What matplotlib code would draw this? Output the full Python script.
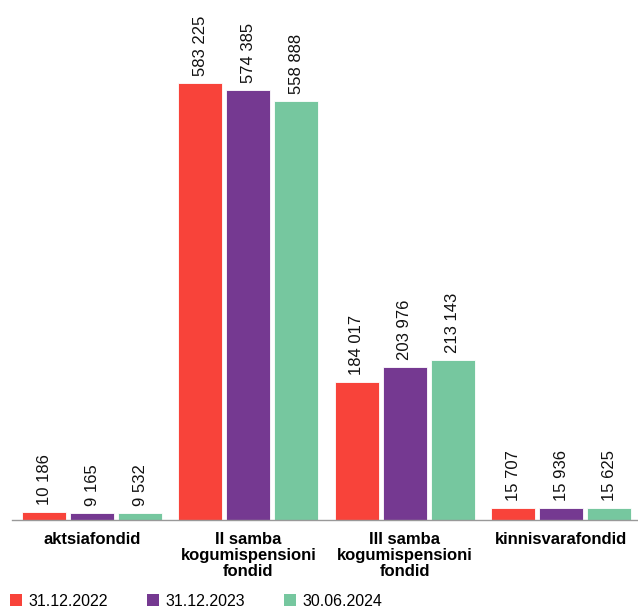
import matplotlib
matplotlib.use("Agg")
import matplotlib.pyplot as plt
from matplotlib.patches import Patch
import numpy as np

categories = ["aktsiafondid", "II samba\nkogumispensioni\nfondid",
              "III samba\nkogumispensioni\nfondid", "kinnisvarafondid"]
series_names = ["31.12.2022", "31.12.2023", "30.06.2024"]
values_2022 = [10186, 583225, 184017, 15707]
values_2023 = [9165, 574385, 203976, 15936]
values_2024 = [9532, 558888, 213143, 15625]
colors = ["#F8433A", "#753991", "#76C79F"]

series = [values_2022, values_2023, values_2024]

plt.rcParams['font.family'] = ['Liberation Sans', 'DejaVu Sans']

W, H = 638, 609
fig = plt.figure(figsize=(W / 100, H / 100), dpi=100)
ax = fig.add_axes([12 / W, 89 / H, (637 - 12) / W, 520 / H])

x = np.arange(len(categories))
bw = 0.2815
step = 0.307

def fmt(v):
    return f"{v:,}".replace(",", " ")

for i, (vals, col) in enumerate(zip(series, colors)):
    pos = x + (i - 1) * step
    bars = ax.bar(pos, vals, width=bw, color=col, edgecolor="white", linewidth=0.6)
    for b, v in zip(bars, vals):
        ax.annotate(fmt(v), (b.get_x() + b.get_width() / 2, v),
                    xytext=(0, 5), textcoords="offset points",
                    rotation=90, ha="center", va="bottom", fontsize=12,
                    color="#111111")

ax.set_xlim(-0.512, 3.486)
ax.set_ylim(0, 583225 * 520 / 437)

for s in ["top", "right", "left"]:
    ax.spines[s].set_visible(False)
ax.spines["bottom"].set_color("#999999")
ax.spines["bottom"].set_linewidth(1.0)
ax.set_yticks([])
ax.set_xticks(x)
ax.set_xticklabels(categories, fontsize=12, fontweight="bold", linespacing=1.05)
ax.tick_params(axis="x", length=0, pad=9)

handles = [Patch(facecolor=c, edgecolor="none") for c in colors]
fig.legend(handles, series_names, loc="lower left", bbox_to_anchor=(10 / W, 0.5 / H),
           ncol=3, frameon=False, fontsize=11.5, handlelength=0.75, handleheight=0.75,
           handletextpad=0.4, columnspacing=2.45, borderpad=0, borderaxespad=0)

fig.savefig("out.png", dpi=100)
